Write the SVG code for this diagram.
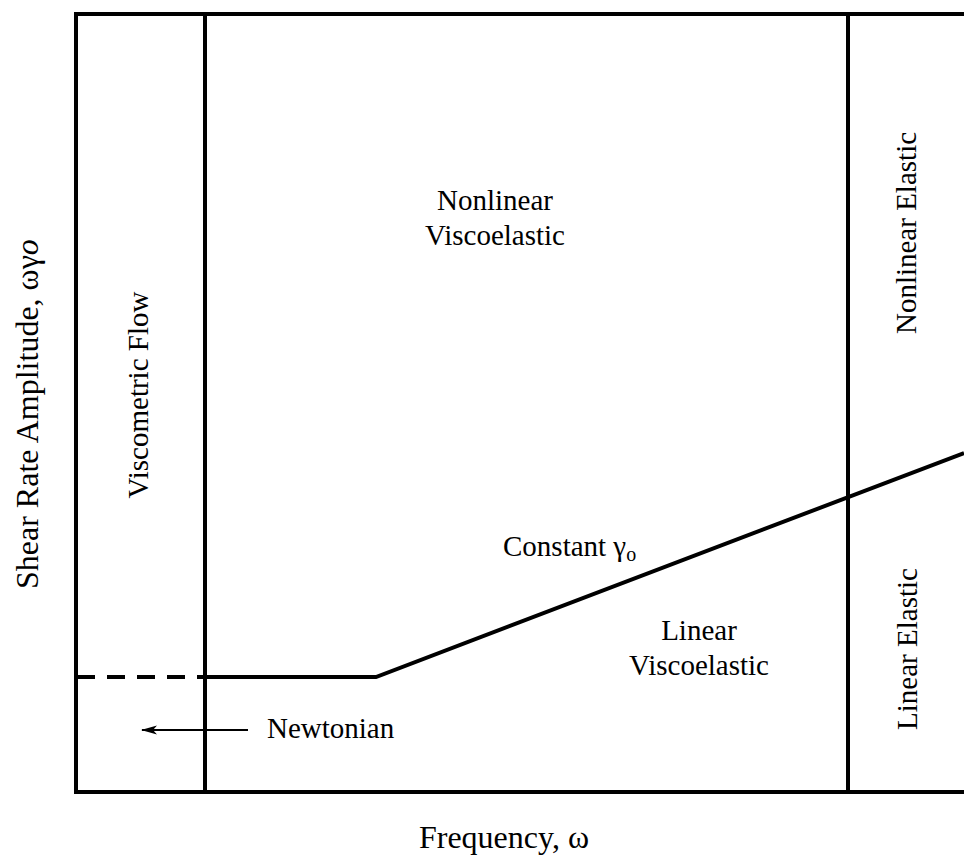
<svg xmlns="http://www.w3.org/2000/svg" width="964" height="859" viewBox="0 0 964 859">
  <style>
    .ln { stroke: #000; stroke-width: 4; fill: none; }
    .thin { stroke: #000; stroke-width: 2; fill: none; }
    .lbl { font-family: "Liberation Serif", "Times New Roman", serif; font-size: 29px; fill: #000; }
    .axis { font-family: "Liberation Serif", "Times New Roman", serif; font-size: 32px; fill: #000; }
    .mid { text-anchor: middle; }
  </style>
  <defs>
    <marker id="head" viewBox="0 0 16 10" refX="15" refY="5" markerWidth="16" markerHeight="10" markerUnits="userSpaceOnUse" orient="auto">
      <path d="M16,5 L0,0.5 L4,5 L0,9.5 Z" fill="#000"/>
    </marker>
  </defs>

  <rect width="964" height="859" fill="#fff"/>

  <!-- plot frame and region boundaries -->
  <g id="frame">
    <path class="ln" d="M964,14 H76 V792 H964"/>
    <line class="ln" x1="205" y1="14" x2="205" y2="792"/>
    <line class="ln" x1="848" y1="14" x2="848" y2="792"/>
  </g>

  <!-- connectors: constant strain line, Newtonian extension, arrow -->
  <g id="connectors">
    <line class="ln" x1="77" y1="677" x2="205" y2="677" stroke-dasharray="18 12"/>
    <polyline class="ln" points="205,677 376,677 964,453"/>
    <line class="thin" x1="248" y1="730" x2="142" y2="730" marker-end="url(#head)"/>
  </g>

  <g id="nonlinear-viscoelastic">
    <text class="lbl mid" x="495" y="210">Nonlinear</text>
    <text class="lbl mid" x="495" y="245">Viscoelastic</text>
  </g>

  <g id="linear-viscoelastic">
    <text class="lbl mid" x="699" y="640">Linear</text>
    <text class="lbl mid" x="699" y="675">Viscoelastic</text>
  </g>

  <g id="viscometric-flow">
    <text class="lbl mid" transform="translate(148,395) rotate(-90)">Viscometric Flow</text>
  </g>

  <g id="nonlinear-elastic">
    <text class="lbl mid" transform="translate(916,233) rotate(-90)">Nonlinear Elastic</text>
  </g>

  <g id="linear-elastic">
    <text class="lbl mid" transform="translate(917,649) rotate(-90)">Linear Elastic</text>
  </g>

  <g id="constant-strain">
    <text class="lbl" x="503" y="556">Constant γ<tspan font-size="20" dy="5">o</tspan></text>
  </g>

  <g id="newtonian">
    <text class="lbl" x="267" y="738">Newtonian</text>
  </g>

  <g id="axis-x">
    <text class="axis" x="589" y="848" text-anchor="end">Frequency, ω</text>
  </g>

  <g id="axis-y">
    <text class="axis" transform="translate(38,589) rotate(-90)">Shear Rate Amplitude, ωγ<tspan font-style="italic">o</tspan></text>
  </g>
</svg>
